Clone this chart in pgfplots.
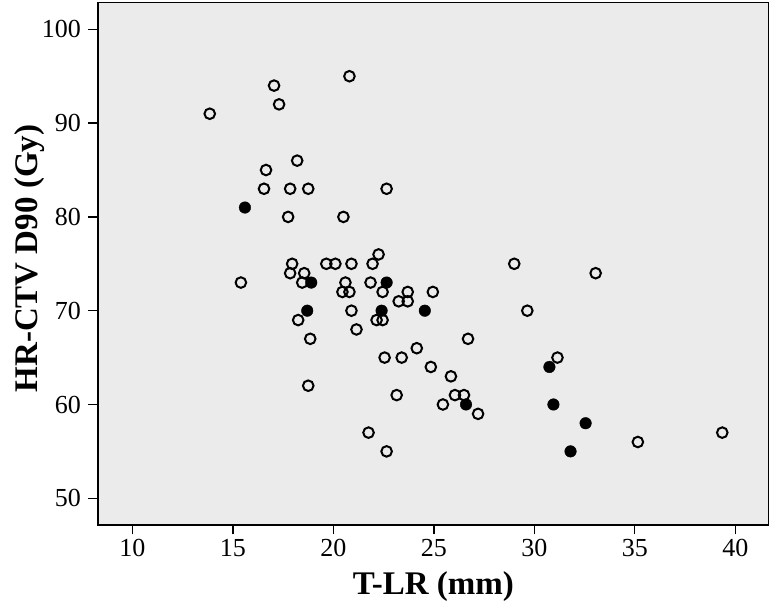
\documentclass[border=0pt]{standalone}
\usepackage{pgfplots}
\pgfplotsset{compat=1.18}
\usepackage{fontspec}
\setmainfont{Liberation Serif}
\definecolor{panelgray}{RGB}{235,235,235}

\begin{document}
\begin{tikzpicture}
% keep the page the size of the reference (1pt = 1px)
\path[use as bounding box] (-98pt,-88pt) rectangle (674pt,525pt);
\begin{axis}[
  at={(0pt,0pt)}, anchor=south west,
  width=670.7pt, height=522.3pt,
  scale only axis,
  xmin=8.29, xmax=41.66,
  ymin=47.15, ymax=102.84,
  xtick={10,15,...,40},
  ytick={50,60,...,100},
  axis background/.style={fill=panelgray},
  axis line style={black, line width=1.3pt},
  tick style={black, line width=1.3pt},
  major tick length=9.5pt,
  tick align=outside,
  xtick pos=bottom, ytick pos=left,
  /pgf/number format/assume math mode=true,
  ticklabel style={font=\fontsize{26}{30}\selectfont},
  yticklabel style={xshift=-4pt},
  xticklabel style={yshift=-1pt},
  xlabel={T-LR (mm)},
  ylabel={HR-CTV D90 (Gy)},
  label style={font=\fontsize{33}{39}\selectfont\bfseries},
  xlabel style={at={(axis description cs:0.5,-0.1187)}, anchor=center},
  ylabel style={at={(axis description cs:-0.1014,0.51)}, anchor=center},
  clip=false,
]
% open circles
\addplot[only marks, mark=o, mark size=5.3pt, line width=2pt, black] coordinates {
  (13.85,91) (17.05,94) (17.3,92) (20.8,95) (18.2,86) (16.65,85)
  (16.55,83) (17.85,83) (18.75,83) (22.65,83) (17.75,80) (20.5,80)
  (22.25,76) (17.95,75) (19.65,75) (20.1,75) (20.9,75) (21.95,75)
  (17.85,74) (18.55,74) (15.4,73) (18.45,73) (20.6,73) (21.85,73)
  (20.45,72) (20.8,72) (22.45,72) (23.7,72) (24.95,72)
  (23.25,71) (23.7,71) (20.9,70) (18.25,69) (22.15,69) (22.45,69)
  (21.15,68) (18.85,67) (24.15,66) (22.55,65) (23.4,65) (24.85,64)
  (18.75,62) (23.15,61) (25.45,60) (21.75,57) (22.65,55)
  (29.0,75) (33.05,74) (29.65,70) (26.7,67) (31.15,65) (25.85,63)
  (26.05,61) (26.5,61) (27.2,59) (39.35,57) (35.15,56)
};
% filled circles
\addplot[only marks, mark=*, mark size=5.8pt, black] coordinates {
  (15.6,81) (18.9,73) (22.65,73) (18.7,70) (22.4,70) (24.55,70)
  (30.75,64) (26.6,60) (30.95,60) (32.55,58) (31.8,55)
};
\end{axis}
\end{tikzpicture}
\end{document}
